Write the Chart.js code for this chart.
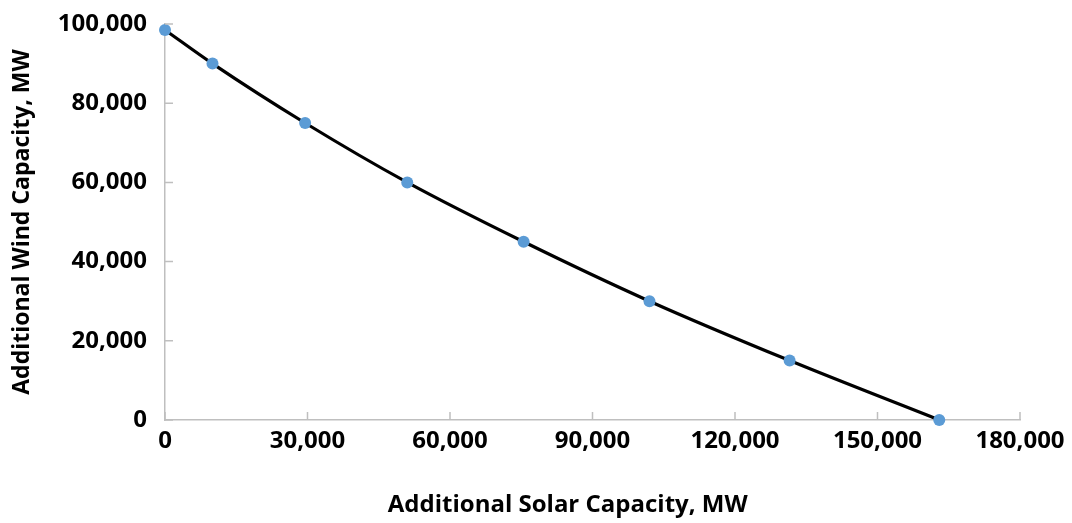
<!DOCTYPE html>
<html>
<head>
<meta charset="utf-8">
<script src="https://cdn.jsdelivr.net/npm/chart.js@4.4.1/dist/chart.umd.min.js"></script>
<style>
html,body{margin:0;padding:0;background:#fff;}
#wrap{width:1072px;height:523px;position:relative;}
</style>
</head>
<body>
<div id="wrap"><canvas id="c"></canvas></div>
<script>
const solarMW = [0, 10000, 29500, 51000, 75500, 102000, 131500, 163000];
const windMW = [98500, 90000, 75000, 60000, 45000, 30000, 15000, 0];
const xTicks = [0, 30000, 60000, 90000, 120000, 150000, 180000];
const yTicks = [0, 20000, 40000, 60000, 80000, 100000];
const xTitle = 'Additional Solar Capacity, MW';
const yTitle = 'Additional Wind Capacity, MW';

const points = solarMW.map((x, i) => ({x: x, y: windMW[i]}));
const FONT = "'Open Sans', 'DejaVu Sans', sans-serif";
const AXIS = '#BFBFBF';

const extras = {
  id: 'extras',
  afterDraw(chart) {
    const ctx = chart.ctx, xs = chart.scales.x, ys = chart.scales.y;
    ctx.save();
    ctx.strokeStyle = AXIS;
    ctx.lineWidth = 1.5;
    ctx.beginPath();
    xTicks.forEach(v => {
      const px = xs.getPixelForValue(v);
      ctx.moveTo(px, ys.bottom);
      ctx.lineTo(px, ys.bottom - 8);
    });
    yTicks.forEach(v => {
      const py = ys.getPixelForValue(v);
      ctx.moveTo(xs.left, py);
      ctx.lineTo(xs.left + 8, py);
    });
    ctx.stroke();
    // x axis title (offset left of the plot centre as in the reference)
    ctx.fillStyle = '#000';
    ctx.font = "bold 24px " + FONT;
    ctx.textAlign = 'center';
    ctx.textBaseline = 'middle';
    ctx.fillText(xTitle, xs.left + (xs.right - xs.left) * 0.471, 505);
    ctx.restore();
  }
};

new Chart(document.getElementById('c'), {
  type: 'scatter',
  data: {
    datasets: [{
      data: points,
      showLine: true,
      borderColor: '#000000',
      borderWidth: 3.2,
      cubicInterpolationMode: 'monotone',
      pointRadius: 6,
      pointHoverRadius: 6,
      pointBackgroundColor: '#5B9BD5',
      pointBorderColor: '#5B9BD5',
      pointBorderWidth: 0
    }]
  },
  options: {
    responsive: true,
    maintainAspectRatio: false,
    animation: false,
    clip: false,
    plugins: { legend: { display: false }, tooltip: { enabled: false } },
    layout: { padding: { left: 0, right: 52, top: 24, bottom: 0 } },
    scales: {
      x: {
        type: 'linear',
        min: 0, max: 180000,
        afterBuildTicks: s => { s.ticks = xTicks.map(v => ({value: v})); },
        afterFit: s => { s.height = 103; s.paddingLeft = 0; s.paddingRight = 0; },
        border: { color: AXIS, width: 1.5 },
        grid: { drawOnChartArea: false, drawTicks: false },
        ticks: {
          padding: 7,
          color: '#000',
          font: { family: FONT, size: 24, weight: 'bold' },
          callback: v => v.toLocaleString('en-US')
        },
        title: { display: false }
      },
      y: {
        type: 'linear',
        min: 0, max: 100000,
        afterBuildTicks: s => { s.ticks = yTicks.map(v => ({value: v})); },
        afterFit: s => { s.width = 165; s.paddingTop = 0; s.paddingBottom = 0; },
        border: { color: AXIS, width: 1.5 },
        grid: { drawOnChartArea: false, drawTicks: false },
        ticks: {
          padding: 18,
          color: '#000',
          font: { family: FONT, size: 24, weight: 'bold' },
          callback: v => v.toLocaleString('en-US')
        },
        title: {
          display: true, text: yTitle, color: '#000',
          font: { family: FONT, size: 23, weight: 'bold' },
          padding: { top: 9, bottom: 4 }
        }
      }
    }
  },
  plugins: [extras]
});
</script>
</body>
</html>
